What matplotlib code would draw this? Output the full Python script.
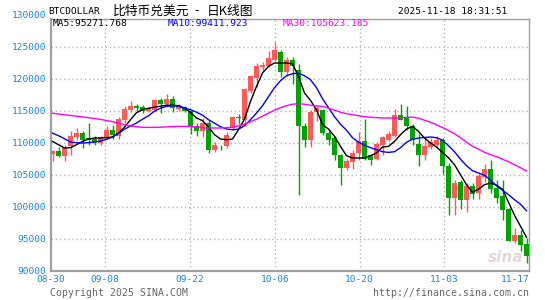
import matplotlib
matplotlib.use('Agg')
import matplotlib.pyplot as plt
import numpy as np

# daily candles 08-30 .. 11-17 (red = up, green = down)
opens = [108330, 108800, 108020, 109580, 110990, 111560, 110830, 110630, 110000, 110780,
         111970, 111140, 113640, 115200, 115830, 115630, 114940, 115200, 116660, 116140,
         116920, 115360, 115630, 114940, 112590, 111810, 113130, 108840, 109580, 109470,
         112340, 114060, 113640, 118060, 120160, 121880, 121970, 123020, 124160, 121030,
         123020, 121450, 112700, 110520, 114780, 115090, 111610, 110780, 108170, 106090,
         106970, 108440, 110250, 108170, 107500, 109730, 110520, 111140, 114420, 114060,
         112700, 109890, 108170, 109380, 109730, 110410, 106450, 101410, 103840, 101140,
         103330, 102190, 104690, 105940, 102970, 101660, 99690, 94630, 95670, 94270]
highs = [108950, 109380, 109730, 111810, 112340, 111810, 113170, 111030, 111140, 112590,
         112860, 114060, 115830, 116500, 116140, 115990, 115670, 116880, 117030, 117700,
         117280, 116140, 115830, 115200, 113130, 113910, 113640, 110090, 109730, 111660,
         114270, 114580, 118590, 120670, 122500, 122590, 124310, 125720, 124470, 123440,
         123440, 122390, 113130, 115200, 115830, 115310, 111800, 111140, 108330, 107500,
         108950, 111660, 113750, 108330, 110200, 111140, 111810, 115310, 116140, 115830,
         113020, 111450, 110780, 110780, 111140, 110830, 106880, 104270, 104270, 103800,
         103800, 105410, 106770, 107390, 104270, 104160, 99840, 96720, 96450, 95160]
lows = [107130, 107860, 107130, 108170, 110520, 109220, 109730, 109730, 109730, 110630,
        110630, 110630, 113130, 114780, 114940, 114690, 114780, 114940, 114690, 115940,
        114780, 114940, 114890, 111450, 111140, 110940, 108490, 108530, 108950, 109220,
        112080, 113020, 112590, 117810, 118750, 121190, 121920, 122750, 120310, 120520,
        119270, 101810, 109380, 109380, 113370, 111300, 109730, 107390, 103380, 105830,
        105940, 107390, 107390, 106610, 107390, 108170, 110250, 110940, 113530, 112080,
        109730, 106340, 107390, 109060, 109470, 105200, 98800, 98800, 99690, 99160,
        101250, 101250, 103840, 102190, 100630, 97910, 94630, 94380, 93060, 91250]
closes = [108800, 108020, 109420, 111140, 111560, 110520, 110520, 110000, 110940, 111970,
          111300, 113750, 115310, 115830, 115470, 114940, 115420, 116660, 116140, 116920,
          115470, 115990, 115000, 112590, 111810, 113130, 108840, 109730, 109470, 111300,
          114060, 113840, 118440, 120410, 121970, 122240, 123280, 124470, 121030, 123020,
          122080, 112590, 110520, 114780, 115470, 111610, 110520, 108170, 106090, 107130,
          108440, 110250, 107500, 107390, 109890, 110940, 111450, 114420, 113640, 112590,
          110520, 108170, 109580, 110090, 110410, 106450, 101410, 103750, 101140, 103330,
          102080, 104890, 105940, 102810, 101410, 99580, 94630, 95670, 94110, 92280]

ma5 = [110250, 109734, 109219, 109266, 109734, 110250, 110625, 110781, 110781, 110828,
       110938, 111563, 112469, 113641, 114735, 115203, 115438, 115594, 115750, 115907,
       115907, 115828, 115469, 114782, 113907, 113485, 112500, 111297, 110625, 110516,
       110625, 112078, 113750, 116500, 118844, 120938, 121969, 122500, 122500, 122500,
       122391, 120407, 117813, 116657, 115203, 112860, 112188, 111031, 109469, 108016,
       107657, 107657, 107657, 108016, 108438, 109375, 109469, 110250, 111297, 112188,
       112594, 111813, 110781, 110000, 109375, 108532, 107703, 106610, 105047, 103485,
       102313, 102782, 103485, 103750, 103407, 102782, 100750, 98719, 97000, 95272]
ma10 = [111532, 111141, 110672, 110157, 110047, 110000, 110047, 110172, 110313, 110563,
        110938, 111500, 112157, 112657, 113125, 113719, 114266, 114969, 115438, 115719,
        115828, 115750, 115438, 115203, 114813, 114344, 113641, 113094, 112547, 112188,
        112078, 112157, 112703, 113641, 114688, 115828, 117235, 118641, 119735, 120516,
        120829, 120907, 120516, 119891, 118641, 116922, 115516, 114110, 112938, 112000,
        110828, 110125, 109657, 109266, 108953, 108641, 108532, 108641, 109266, 110125,
        110594, 110781, 110860, 110938, 110828, 110438, 109578, 108641, 107469, 106453,
        105672, 105313, 104953, 104219, 103328, 102625, 101922, 101141, 100438, 99412]
ma30 = [114657, 114532, 114422, 114297, 114188, 114078, 113953, 113828, 113688, 113516,
        113328, 113094, 112860, 112657, 112547, 112453, 112438, 112438, 112469, 112516,
        112578, 112594, 112594, 112563, 112516, 112391, 112344, 112344, 112344, 112391,
        112469, 112672, 112938, 113328, 113719, 114188, 114657, 115125, 115516, 115828,
        116063, 116141, 116063, 115907, 115797, 115703, 115438, 115125, 114813, 114578,
        114422, 114266, 114110, 114032, 113953, 113907, 113907, 113907, 113953, 114016,
        114047, 113875, 113563, 113250, 112860, 112422, 111969, 111453, 110828, 110125,
        109500, 109032, 108563, 108172, 107860, 107469, 107078, 106610, 106141, 105625]

date_labels = ['08-30', '09-08', '09-22', '10-06', '10-20', '11-03', '11-17']
date_index = [0, 9, 23, 37, 51, 65, 79]
price_ticks = [90000, 95000, 100000, 105000, 110000, 115000, 120000, 125000, 130000]

RED = '#ff5858'
GREEN = '#00a400'
TICK_BLUE = '#1a86d0'
MONO = 'DejaVu Sans Mono'

W, H = 545, 300
fig = plt.figure(figsize=(W / 100, H / 100), dpi=100)
L, R, T, B = 50.5, 529.3, 19, 271
ax = fig.add_axes([L / W, 1 - B / H, (R - L) / W, (B - T) / H])

x = np.arange(len(opens))
o = np.array(opens, float)
c = np.array(closes, float)
up = c >= o
cols = np.where(up, RED, GREEN)

ax.vlines(x, lows, highs, colors=cols, linewidth=1, zorder=3)
body_bot = np.minimum(o, c)
body_h = np.maximum(np.abs(c - o), 120)
ax.bar(x, body_h, bottom=body_bot, width=0.8, color=cols, linewidth=0, zorder=4)

ax.plot(x, ma5, color='black', lw=1, zorder=5)
ax.plot(x, ma10, color='#0000ff', lw=1, zorder=5)
ax.plot(x, ma30, color='#ff00ff', lw=1, zorder=5)

xl = ((L - 52.5) / 6, (R - 52.5) / 6)
ax.set_xlim(*xl)
ylo = 90000
yhi = ylo + (B - T) * 156.25
ax.set_ylim(ylo, yhi)

tick_pos = np.interp(date_index, [0, 79], xl)
ax.set_xticks(tick_pos[1:-1])
ax.set_xticklabels([])
ax.set_yticks([p for p in price_ticks if p < yhi])
ax.set_yticklabels([])
ax.tick_params(length=0)
ax.grid(True, color='#b4b4b4', linestyle=(0, (1, 2)), linewidth=1)

for s in ax.spines.values():
    s.set_color('#a0a0a0')
    s.set_linewidth(1)
ax.spines['left'].set_linewidth(1.6)
ax.spines['bottom'].set_linewidth(1.6)

# price labels (130000 sits above the frame)
for p in price_ticks:
    ypix = B - (p - ylo) / 156.25
    fig.text(46 / W, 1 - ypix / H, str(p), ha='right', va='center',
             color=TICK_BLUE, fontsize=6.8, family=MONO)

for i, lab in zip(tick_pos, date_labels):
    xpix = L + (i - xl[0]) / (xl[1] - xl[0]) * (R - L)
    ha = 'center'
    if lab == date_labels[-1]:
        ha, xpix = 'right', R
    fig.text(xpix / W, 1 - 280 / H, lab, ha=ha, va='center',
             color=TICK_BLUE, fontsize=6.8, family=MONO)

cjk = ['Noto Sans CJK SC', 'DejaVu Sans']
fig.text(48 / W, 1 - 11 / H, 'BTCDOLLAR', ha='left', va='center',
         fontsize=6.8, family=MONO, color='black')
fig.text(113 / W, 1 - 11 / H, '比特币兑美元', ha='left', va='center',
         fontsize=9.2, family=cjk, color='black')
fig.text(194 / W, 1 - 11 / H, '-', ha='left', va='center',
         fontsize=9.2, family=cjk, color='black')
fig.text(207 / W, 1 - 11 / H, '日K线图', ha='left', va='center',
         fontsize=9.2, family=cjk, color='black')
fig.text(507 / W, 1 - 11 / H, '2025-11-18 18:31:51', ha='right', va='center',
         fontsize=6.8, family=MONO, color='black')

fig.text(52.5 / W, 1 - 23.5 / H, 'MA5:95271.768', ha='left', va='center',
         fontsize=6.8, family=MONO, color='black')
fig.text(167.3 / W, 1 - 23.5 / H, 'MA10:99411.923', ha='left', va='center',
         fontsize=6.8, family=MONO, color='#0000ff')
fig.text(282.7 / W, 1 - 23.5 / H, 'MA30:105623.185', ha='left', va='center',
         fontsize=6.8, family=MONO, color='#ff00ff')

fig.text(50 / W, 1 - 292.5 / H, 'Copyright 2025 SINA.COM', ha='left', va='center',
         fontsize=7.1, family=MONO, color='#666666')
fig.text(529 / W, 1 - 292.5 / H, 'http://finance.sina.com.cn', ha='right', va='center',
         fontsize=7.1, family=MONO, color='#666666')

# faint watermark
fig.text(506 / W, 1 - 258 / H, 'sina', ha='center', va='center', fontsize=11,
         fontweight='bold', style='italic', color='#d8c8c8', alpha=0.7, zorder=0)

fig.savefig('out.png', dpi=100)
